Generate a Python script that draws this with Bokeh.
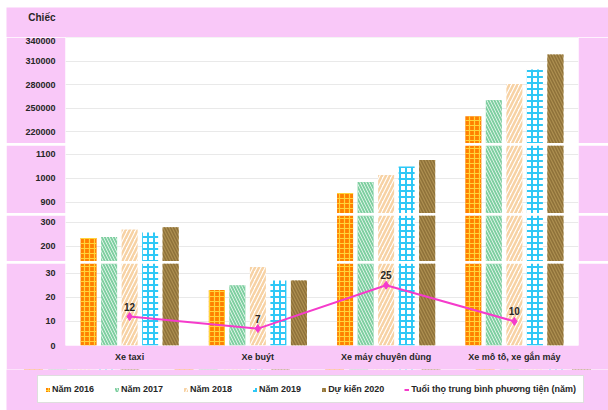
from bokeh.plotting import figure
from bokeh.layouts import column
from bokeh.models import (ColumnDataSource, FactorRange, FixedTicker, Legend, LegendItem,
                          LabelSet, Label, BasicTickFormatter, Range1d)
from bokeh.core.properties import value
from bokeh.transform import dodge
from bokeh.embed import file_html
from bokeh.resources import INLINE

# ---- data ----
categories = ["Xe taxi", "Xe buýt", "Xe máy chuyên dùng", "Xe mô tô, xe gắn máy"]
nam_2016 = [235, 23, 939, 239600]
nam_2017 = [239, 25, 985, 260600]
nam_2018 = [271, 32.5, 1015, 281000]
nam_2019 = [258, 27, 1050, 299500]
du_kien_2020 = [280, 27, 1077, 318700]
tuoi_tho = [12, 7, 25, 10]
series_names = ["Năm 2016", "Năm 2017", "Năm 2018", "Năm 2019", "Dự kiến 2020"]
line_name = "Tuổi thọ trung bình phương tiện (năm)"
unit_label = "Chiếc"

# broken y-axis segments: ticks and visible range of each panel
seg_ticks = [[220000, 250000, 280000, 310000, 340000], [900, 1000, 1100], [200, 300], [0, 10, 20, 30]]
seg_ranges = [(204700, 340640), (854, 1137.5), (137.5, 329), (0, 34.0)]

PINK = "#F9C8F8"
FONT = "Liberation Sans"
TXT = "#262626"
LINE_C = "#F53BCB"

src = ColumnDataSource(dict(cat=categories, s0=nam_2016, s1=nam_2017, s2=nam_2018,
                            s3=nam_2019, s4=du_kien_2020, age=tuoi_tho,
                            age_lbl=[str(v) for v in tuoi_tho]))

x_range = FactorRange(*categories)

styles = [
    dict(fill_color="#FF8000", hatch_pattern="cross", hatch_color="#FFD43A", hatch_scale=5, hatch_weight=1.2),
    dict(fill_color="#7FCFA1", hatch_pattern="left_diagonal_line", hatch_color="#DDF3E6", hatch_scale=6, hatch_weight=1.0),
    dict(fill_color="#FFFFFF", hatch_pattern="right_diagonal_line", hatch_color="#F7D2A4", hatch_scale=8, hatch_weight=2.5),
    dict(fill_color="#FFFFFF", hatch_pattern="cross", hatch_color="#2EC8F6", hatch_scale=6, hatch_weight=2),
    dict(fill_color="#AD8F50", hatch_pattern="left_diagonal_line", hatch_color="#8E7139", hatch_scale=6, hatch_weight=1.5),
]
offsets = [-0.32, -0.16, 0.0, 0.16, 0.32]

heights = [106, 68, 46, 106]
bottoms = [0, 0, 0, 24]


def add_bars(p):
    rends = []
    for k in range(5):
        r = p.vbar(x=dodge("cat", offsets[k], range=x_range), top="s%d" % k, bottom=0,
                   width=0.125, source=src, line_color=None, **styles[k])
        rends.append(r)
    return rends


# header strip with the unit label
hd = figure(x_range=Range1d(0, 602), y_range=Range1d(0, 30), width=602, height=30,
            output_backend="svg", toolbar_location=None,
            min_border_left=0, min_border_right=0, min_border_top=0, min_border_bottom=0)
hd.axis.visible = False
hd.grid.visible = False
hd.outline_line_color = None
hd.background_fill_color = PINK
hd.border_fill_color = PINK
hd.add_layout(Label(x=49, y=20, text=unit_label, text_align="right", text_baseline="middle",
                    text_font=FONT, text_font_size="10px", text_font_style="bold",
                    text_color=TXT))

figs = []
for i in range(4):
    p = figure(x_range=x_range, y_range=Range1d(*seg_ranges[i]), width=602, height=heights[i],
               output_backend="svg", toolbar_location=None,
               min_border_left=59, min_border_right=30,
               min_border_top=0, min_border_bottom=bottoms[i])
    p.border_fill_color = PINK
    p.background_fill_color = "white"
    p.outline_line_color = None
    p.xgrid.grid_line_color = None
    p.ygrid.grid_line_color = "#E9E9E9"
    p.ygrid.grid_line_width = 1
    p.yaxis.ticker = FixedTicker(ticks=seg_ticks[i])
    p.yaxis.formatter = BasicTickFormatter(use_scientific=False)
    p.yaxis.axis_line_color = None
    p.yaxis.major_tick_line_color = None
    p.yaxis.minor_tick_line_color = None
    p.yaxis.major_tick_out = 0
    p.yaxis.minor_tick_out = 0
    p.yaxis.major_label_standoff = 10
    p.yaxis.major_label_text_font = FONT
    p.yaxis.major_label_text_font_style = "bold"
    p.yaxis.major_label_text_font_size = "9px"
    p.yaxis.major_label_text_color = TXT
    if i < 3:
        p.xaxis.visible = False
    else:
        p.xaxis.axis_line_color = None
        p.xaxis.major_tick_line_color = None
        p.xaxis.minor_tick_line_color = None
        p.xaxis.major_tick_out = 0
        p.xaxis.minor_tick_out = 0
        p.xaxis.major_label_standoff = 6
        p.xaxis.major_label_text_font = FONT
        p.xaxis.major_label_text_font_style = "bold"
        p.xaxis.major_label_text_font_size = "9px"
        p.xaxis.major_label_text_color = TXT

    add_bars(p)

    if i == 3:
        p.line(x="cat", y="age", source=src, line_color=LINE_C, line_width=2)
        p.scatter(x="cat", y="age", source=src, marker="diamond", size=8,
                  fill_color=LINE_C, line_color=LINE_C)
        labels = LabelSet(x="cat", y="age", text="age_lbl", source=src, y_offset=6,
                          text_align="center", text_baseline="bottom",
                          text_font=value(FONT), text_font_size=value("10px"),
                          text_font_style="bold", text_color=TXT)
        p.add_layout(labels)
    figs.append(p)

# legend strip: same series drawn again, but outside its (empty) y-range
lg = figure(x_range=x_range, y_range=Range1d(-2, -1), width=602, height=41,
            output_backend="svg", toolbar_location=None,
            min_border_left=0, min_border_right=0, min_border_top=0, min_border_bottom=0)
lg.axis.visible = False
lg.grid.visible = False
lg.outline_line_color = None
lg.background_fill_color = PINK
lg.border_fill_color = PINK
lrends = add_bars(lg)
llr = lg.line(x="cat", y="age", source=src, line_color=LINE_C, line_width=2)
lmr = lg.scatter(x="cat", y="age", source=src, marker="diamond", size=8,
                 fill_color=LINE_C, line_color=LINE_C)
items = [LegendItem(label=series_names[k], renderers=[lrends[k]]) for k in range(5)]
items.append(LegendItem(label=line_name, renderers=[llr, lmr]))
legend = Legend(items=items, orientation="horizontal", location=(31, 7),
                glyph_width=5, glyph_height=5, label_standoff=2, spacing=20,
                padding=7, margin=0, label_height=12,
                label_text_font=FONT, label_text_font_size="9px",
                label_text_font_style="bold", label_text_color=TXT,
                border_line_color="#BDBDBD", border_line_width=1,
                background_fill_color="white", background_fill_alpha=1)
lg.add_layout(legend, "center")

layout = column(hd, column(*figs, spacing=2), lg, spacing=0, margin=(7, 0, 0, 6))
open("out.html", "w").write(file_html(layout, INLINE))
